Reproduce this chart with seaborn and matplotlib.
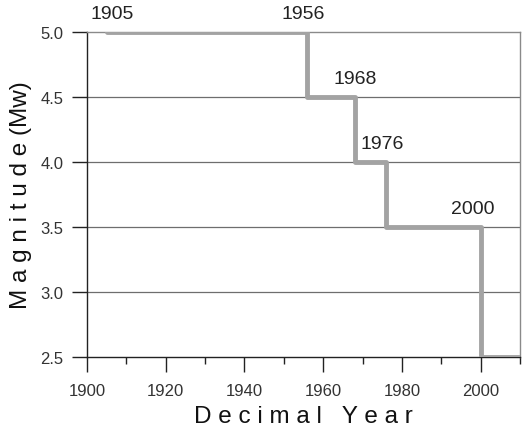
import matplotlib
matplotlib.use("Agg")
import matplotlib.pyplot as plt
import seaborn as sns
import pandas as pd
from matplotlib.ticker import MultipleLocator

years = [1905, 1956, 1968, 1976, 2000, 2010]
mags = [5.0, 4.5, 4.0, 3.5, 2.5, 2.5]
label_years = ["1905", "1956", "1968", "1976", "2000"]
label_x = [1905, 1956, 1968, 1976, 2000]
label_level = [5.0, 5.0, 4.5, 4.0, 3.5]
x_ticks = [1900, 1920, 1940, 1960, 1980, 2000]
y_ticks = [2.5, 3.0, 3.5, 4.0, 4.5, 5.0]

sns.set_style("white")
plt.rcParams["font.family"] = ["Liberation Sans", "DejaVu Sans"]

df = pd.DataFrame({"year": years, "mag": mags})

fig = plt.figure(figsize=(5.27, 4.35), dpi=100)
ax = fig.add_axes([0.165, 0.177, 0.822, 0.747])

ax.grid(False)
for yv in y_ticks[1:-1]:
    ax.axhline(yv, color="#6e6e6e", lw=0.9, zorder=1)

sns.lineplot(data=df, x="year", y="mag", drawstyle="steps-post",
             color="#a3a3a3", lw=3.5, ax=ax, zorder=3, estimator=None)

x_adj = [1.5, -1.2, 0.0, -1.0, -2.0]
for lab, xv, lv, dx in zip(label_years, label_x, label_level, x_adj):
    ax.text(xv + dx, lv + 0.145, lab, ha="center", va="center",
            fontsize=14, color="#222222", clip_on=False)

ax.set_xlim(1900, 2010)
ax.set_ylim(2.5, 5.0)
ax.set_xticks(x_ticks)
ax.xaxis.set_minor_locator(MultipleLocator(10))
ax.set_yticks(y_ticks)
ax.set_yticklabels([f"{v:.1f}" for v in y_ticks])

ax.tick_params(axis="both", which="major", direction="out", length=11, width=1,
               color="#222222", labelsize=12, labelcolor="#333333", pad=6,
               bottom=True, left=True)
ax.tick_params(axis="x", which="major", pad=8)
ax.tick_params(axis="x", which="minor", direction="out", length=5, width=1,
               color="#222222", bottom=True)

for side in ["left", "bottom"]:
    ax.spines[side].set_color("#222222")
    ax.spines[side].set_linewidth(1.0)
for side in ["top", "right"]:
    ax.spines[side].set_color("#8a8a8a")
    ax.spines[side].set_linewidth(1.0)

ax.set_xlabel("D e c i m a l   Y e a r", fontsize=17.5, color="#111111", labelpad=5)
ax.set_ylabel("M a g n i t u d e (Mw)", fontsize=17.5, color="#111111", labelpad=6)

fig.savefig("out.png", dpi=100)
